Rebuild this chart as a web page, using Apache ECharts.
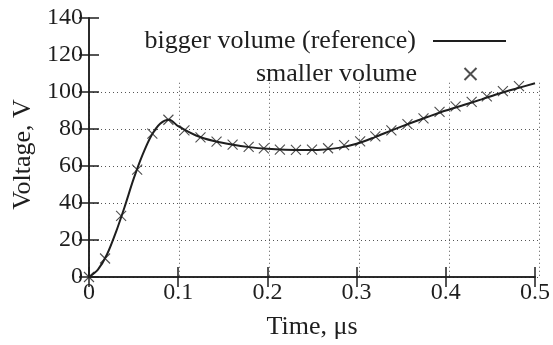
<!DOCTYPE html>
<html>
<head>
<meta charset="utf-8">
<script src="https://cdn.jsdelivr.net/npm/echarts@6/dist/echarts.min.js"></script>
<style>
  html, body { margin: 0; padding: 0; background: #fff; }
  #chart { width: 553px; height: 345px; }
</style>
</head>
<body>
<div id="chart"></div>
<script>
// reference curve (bigger volume)
const refTime = [0, 0.01, 0.02, 0.03, 0.04, 0.05, 0.06, 0.07, 0.08, 0.09, 0.1,
  0.12, 0.14, 0.16, 0.18, 0.2, 0.22, 0.24, 0.26, 0.28, 0.3,
  0.32, 0.34, 0.36, 0.38, 0.4, 0.42, 0.44, 0.46, 0.48, 0.5]
const refVoltage = [0, 4, 12, 24, 38, 53, 66, 76.5, 83, 85, 81.5,
  76.5, 73.5, 71.6, 70.2, 69.3, 68.8, 68.6, 68.8, 69.8, 72,
  75.5, 79.4, 83.1, 86.6, 90, 93, 96, 99.2, 102, 104.7]

// crosses (smaller volume)
const smallTime = [0, 0.018, 0.036, 0.054, 0.071, 0.089, 0.107, 0.125, 0.143, 0.161,
  0.179, 0.196, 0.214, 0.232, 0.25, 0.268, 0.286, 0.304, 0.321, 0.339,
  0.357, 0.375, 0.393, 0.411, 0.429, 0.446, 0.464, 0.482]
const smallVoltage = [0, 10, 33, 58, 77.5, 85, 79.3, 75.5, 73.2, 71.6,
  70.3, 69.5, 68.9, 68.7, 68.8, 69.6, 71.3, 73.3, 76, 79.3,
  82.6, 85.7, 89.3, 92.2, 94.7, 97.6, 100.5, 103.2]

const xTicks = [0, 0.5, 0.1]   // min, max, step
const yTicks = [0, 140, 20]
const gridTopV = 105           // dotted grid stops under the key

const seriesNames = ['bigger volume (reference)', 'smaller volume']

const font = 'Liberation Serif'
const ink = '#1e1e1e'
const dotted = { show: true, lineStyle: { color: '#555', type: [1, 3], width: 1 } }

const chart = echarts.init(document.getElementById('chart'))

const boxAxis = {
  min: xTicks[0], max: xTicks[1], interval: xTicks[2],
  axisLine: { show: true, lineStyle: { color: ink, width: 1.5 } },
  axisTick: { show: true, inside: true, length: 10, lineStyle: { color: ink, width: 1.5 } },
  splitLine: { show: false }
}

const keyText = { fontFamily: font, fontSize: 26, color: ink, padding: [0, 12, 0, 0] }

const option = {
  animation: false,
  backgroundColor: '#fff',
  grid: [
    { left: 89, right: 14, top: 18, bottom: 68 },
    { left: 89, right: 14, top: 277 - gridTopV * 259 / 140, bottom: 68 }
  ],
  legend: [{
    data: [seriesNames[0]],
    right: 46, top: 28, padding: 0,
    align: 'right',
    itemWidth: 73, itemHeight: 2,
    textStyle: keyText
  }, {
    data: [seriesNames[1]],
    right: 74, top: 61, padding: 0,
    align: 'right',
    itemWidth: 73, itemHeight: 12,
    textStyle: keyText
  }],
  xAxis: [
    Object.assign({}, boxAxis, {
      type: 'value', gridIndex: 0, position: 'bottom',
      name: 'Time, μs', nameLocation: 'middle', nameGap: 37,
      nameTextStyle: { fontFamily: font, fontSize: 26, color: ink },
      axisLabel: { fontFamily: font, fontSize: 24, color: ink, margin: 4 }
    }),
    Object.assign({}, boxAxis, {
      type: 'value', gridIndex: 0, position: 'top',
      axisLabel: { show: false }
    }),
    {
      type: 'value', gridIndex: 1,
      min: xTicks[0], max: xTicks[1], interval: xTicks[2],
      axisLine: { show: false }, axisTick: { show: false }, axisLabel: { show: false },
      splitLine: dotted
    }
  ],
  yAxis: [
    Object.assign({}, boxAxis, {
      type: 'value', gridIndex: 0, position: 'left',
      min: yTicks[0], max: yTicks[1], interval: yTicks[2],
      name: 'Voltage, V', nameLocation: 'middle', nameGap: 45,
      nameTextStyle: { fontFamily: font, fontSize: 26, color: ink, padding: [0, 14, 0, 0] },
      axisLabel: { fontFamily: font, fontSize: 24, color: ink, margin: 6 }
    }),
    Object.assign({}, boxAxis, {
      type: 'value', gridIndex: 0, position: 'right',
      min: yTicks[0], max: yTicks[1], interval: yTicks[2],
      axisLabel: { show: false }
    }),
    {
      type: 'value', gridIndex: 1,
      min: yTicks[0], max: gridTopV, interval: yTicks[2],
      axisLine: { show: false }, axisTick: { show: false }, axisLabel: { show: false },
      splitLine: Object.assign({ showMaxLine: false }, dotted)
    }
  ],
  series: [{
    name: seriesNames[0],
    type: 'line',
    xAxisIndex: 0, yAxisIndex: 0,
    data: refTime.map((t, i) => [t, refVoltage[i]]),
    symbol: 'none',
    smooth: 0.3,
    lineStyle: { color: ink, width: 2 },
    itemStyle: { color: ink },
    z: 3
  }, {
    name: seriesNames[1],
    type: 'scatter',
    xAxisIndex: 0, yAxisIndex: 0,
    data: smallTime.map((t, i) => [t, smallVoltage[i]]),
    symbol: 'path://M0,0L10,10M10,0L0,10',
    symbolSize: 10,
    itemStyle: { color: 'none', borderColor: '#222', borderWidth: 1.1 },
    z: 4
  }]
}

chart.setOption(option)
</script>
</body>
</html>
